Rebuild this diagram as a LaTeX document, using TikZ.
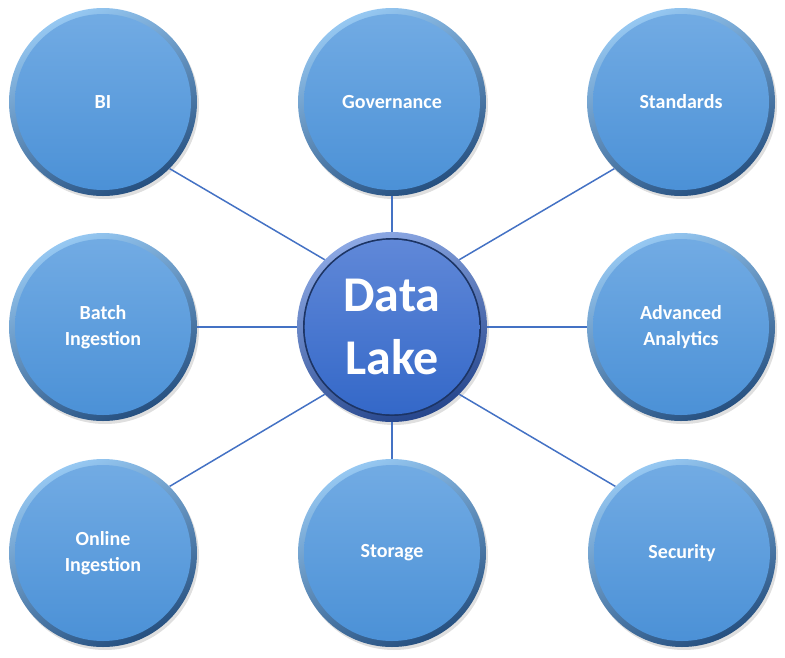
\documentclass[tikz,border=0pt]{standalone}
\usepackage{fontspec}
\setmainfont{Carlito}
\usetikzlibrary{shadows}
\definecolor{rimlight}{RGB}{150,200,242}
\definecolor{rimdark}{RGB}{38,80,128}
\definecolor{intop}{RGB}{115,172,228}
\definecolor{inbot}{RGB}{74,144,214}
\definecolor{hubrimtop}{RGB}{140,168,228}
\definecolor{hubrimbot}{RGB}{38,70,140}
\definecolor{hubring}{RGB}{28,52,100}
\definecolor{hubtop}{RGB}{96,136,216}
\definecolor{hubbot}{RGB}{52,104,200}
\definecolor{linkblue}{RGB}{68,114,196}
\begin{document}
\begin{tikzpicture}[x=1pt,y=-1pt,
  conn/.style={draw=linkblue, line width=1.5pt},
  bubble/.style={circle, minimum size=188pt, inner sep=0pt, text=white, align=center,
    font=\bfseries\fontsize{20}{26}\selectfont,
    top color=rimlight, bottom color=rimdark, shading angle=25,
    drop shadow={opacity=0.25, shadow xshift=2pt, shadow yshift=-3pt},
    path picture={\shade[top color=intop, bottom color=inbot] (path picture bounding box.center) circle (88pt);}},
  hub/.style={circle, minimum size=190pt, inner sep=0pt, text=white, align=center,
    font=\bfseries\fontsize{50}{63}\selectfont,
    top color=hubrimtop, bottom color=hubrimbot, shading angle=20,
    drop shadow={opacity=0.25, shadow xshift=2pt, shadow yshift=-3pt},
    path picture={\fill[hubring] (path picture bounding box.center) circle (89pt);
      \shade[top color=hubtop, bottom color=hubbot] (path picture bounding box.center) circle (87.3pt);}}]
\useasboundingbox (0,0) rectangle (785,657);
\node[hub] (c) at (392,327) {Data\\Lake};
\node[bubble] (bi) at (103,102) {BI};
\node[bubble] (gov) at (392,102) {Governance};
\node[bubble] (std) at (681,102) {Standards};
\node[bubble] (batch) at (103,327) {Batch\\Ingestion};
\node[bubble] (adv) at (681,327) {Advanced\\Analytics};
\node[bubble] (online) at (103,553) {Online\\Ingestion};
\node[bubble] (stor) at (392,553) {Storage};
\node[bubble] (sec) at (682,553) {Security};
\draw[conn] (c.135) -- (bi.-45);
\draw[conn] (c.90) -- (gov.-90);
\draw[conn] (c.45) -- (std.-135);
\draw[conn] (c.180) -- (batch.0);
\draw[conn] (c.0) -- (adv.180);
\draw[conn] (c.-135) -- (online.45);
\draw[conn] (c.-90) -- (stor.90);
\draw[conn] (c.-45) -- (sec.135);
\end{tikzpicture}
\end{document}
